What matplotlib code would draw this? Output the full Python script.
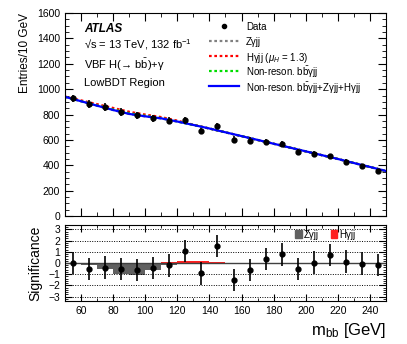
import matplotlib
matplotlib.use('Agg')
import matplotlib.pyplot as plt
from matplotlib.ticker import MultipleLocator
from matplotlib.patches import Patch
import numpy as np

plt.rcParams['font.family'] = ['Liberation Sans', 'DejaVu Sans']
plt.rcParams['mathtext.fontset'] = 'custom'
plt.rcParams['mathtext.rm'] = 'Liberation Sans'
plt.rcParams['mathtext.it'] = 'Liberation Sans:italic'
plt.rcParams['mathtext.bf'] = 'Liberation Sans:bold'

# binned data (bin centres, GeV)
bin_centres = [55, 65, 75, 85, 95, 105, 115, 125, 135, 145,
               155, 165, 175, 185, 195, 205, 215, 225, 235, 245]
data_counts = [927, 885, 860, 821, 795, 769, 750, 755, 671, 710,
               603, 595, 584, 568, 505, 489, 471, 426, 392, 355]
signif = [0.0, -0.53, -0.41, -0.56, -0.62, -0.47, -0.21, 1.09, -0.94, 1.53,
          -1.50, -0.62, 0.35, 0.76, -0.53, 0.03, 0.70, 0.12, -0.06, -0.20]
signif_err = [1.0] * 20

# fitted curves, read at 10 GeV steps
curve_x = [50, 60, 70, 80, 90, 100, 110, 120, 130, 140, 150,
           160, 170, 180, 190, 200, 210, 220, 230, 240, 250]
total_fit = [940, 905, 870, 836, 805, 786, 770, 745, 718, 690, 660,
             630, 600, 570, 540, 510, 480, 450, 418, 387, 355]
h_fit = [942, 912, 882, 852, 822, 800, 780, 752, 720, 690, 660,
         630, 600, 570, 540, 510, 480, 450, 418, 387, 355]
nonres_fit = [940, 906, 872, 840, 810, 790, 772, 746, 718, 690, 660,
              630, 600, 570, 540, 510, 480, 450, 418, 387, 355]
z_fit = [939, 904, 869, 835, 804, 785, 769, 744, 717, 689, 659,
         629, 599, 569, 539, 509, 479, 449, 417, 386, 354]

# significance histograms (bin low edges)
z_edges = [60, 70, 80, 90, 100, 110]
z_sig = [-0.2, -0.5, -1.0, -1.1, -0.6, -0.15]
h_edges = [110, 120, 130, 140]
h_sig = [0.05, 0.22, 0.22, 0.05]

legend_labels = ['Data', 'Zγjj', 'Hγjj ($\\mu_{H}$ = 1.3)', 'Non-reson. b$\\bar{\\rm b}$γjj',
                 'Non-reson. b$\\bar{\\rm b}$γjj+Zγjj+Hγjj']

dot = (0, (1.2, 1.2))
curve_styles = [dict(color='gray', ls=dot), dict(color='red', ls=dot),
                dict(color='#00dd00', ls=dot), dict(color='blue', ls='-')]

fig = plt.figure(figsize=(4.07, 3.44), dpi=100)
ax = fig.add_axes([0.1597, 0.372, 0.7887, 0.590])
ax2 = fig.add_axes([0.1597, 0.125, 0.7887, 0.221])

# top panel
for curve, st in zip([z_fit, h_fit, nonres_fit, total_fit], curve_styles):
    ax.plot(curve_x, curve, lw=1.6, **st)
ax.errorbar(bin_centres, data_counts, yerr=np.sqrt(data_counts), fmt='o', color='black',
            ms=3.5, elinewidth=1.2, capsize=0, zorder=5)

ax.set_xlim(50, 250)
ax.set_ylim(0, 1600)
ax.yaxis.set_major_locator(MultipleLocator(200))
ax.yaxis.set_minor_locator(MultipleLocator(50))
ax.xaxis.set_major_locator(MultipleLocator(20))
ax.xaxis.set_minor_locator(MultipleLocator(10))
ax.tick_params(which='both', direction='in', top=True, right=True, labelsize=7.5)
ax.tick_params(which='major', length=6)
ax.tick_params(which='minor', length=3)
ax.tick_params(axis='x', labelbottom=False)
ax.set_ylabel('Entries/10 GeV', fontsize=8.5, loc='top')

ax.text(0.06, 0.92, 'ATLAS', transform=ax.transAxes, fontsize=8.5,
        fontweight='bold', fontstyle='italic', va='center')
ax.text(0.06, 0.845, '√s = 13 TeV, 132 fb$^{-1}$', transform=ax.transAxes, fontsize=8, va='center')
ax.text(0.06, 0.745, 'VBF H(→ b$\\bar{\\rm b}$)+γ', transform=ax.transAxes, fontsize=8, va='center')
ax.text(0.06, 0.655, 'LowBDT Region', transform=ax.transAxes, fontsize=8, va='center')

# hand-made legend, evenly spaced rows like the ROOT one
row_y = [0.935, 0.862, 0.79, 0.717, 0.643]
ax.plot([0.4955], [row_y[0]], 'o', ms=3, color='black', transform=ax.transAxes)
for yy, st in zip(row_y[1:], curve_styles):
    ax.plot([0.449, 0.542], [yy, yy], lw=1.6, transform=ax.transAxes, **st)
for yy, lab in zip(row_y, legend_labels):
    ax.text(0.564, yy, lab, transform=ax.transAxes, fontsize=7, va='center_baseline')

# bottom panel
ax2.bar(z_edges, z_sig, width=10, align='edge', color='#606060', lw=0)
ax2.bar(h_edges, h_sig, width=10, align='edge', color='#ff2020', lw=0)
ax2.axhline(0, color='#404040', lw=1)
for yv in [-3, -2, -1, 1, 2, 3]:
    ax2.axhline(yv, color='black', ls=(0, (1, 1.5)), lw=0.7)
ax2.errorbar(bin_centres, signif, yerr=signif_err, fmt='o', color='black',
             ms=3.5, elinewidth=1.2, capsize=0, zorder=5)
ax2.set_xlim(50, 250)
ax2.set_ylim(-3.4, 3.4)
ax2.yaxis.set_major_locator(MultipleLocator(1))
ax2.yaxis.set_minor_locator(MultipleLocator(0.2))
ax2.xaxis.set_major_locator(MultipleLocator(20))
ax2.xaxis.set_minor_locator(MultipleLocator(10))
ax2.tick_params(which='both', direction='in', top=True, right=True, labelsize=7.5)
ax2.tick_params(which='major', length=5)
ax2.tick_params(which='minor', length=2.5)
ax2.set_ylabel('Significance', fontsize=10)
ax2.set_xlabel('m$_{\\rm bb}$ [GeV]', fontsize=12, loc='right')
ax2.legend([Patch(color='#606060'), Patch(color='#ff2020')], ['Zγjj', 'Hγjj'],
           loc='upper left', bbox_to_anchor=(0.705, 0.99), ncol=2, frameon=False,
           fontsize=7, handlelength=0.7, handleheight=0.9, handletextpad=0.2,
           columnspacing=1.2, borderaxespad=0)

fig.align_ylabels([ax, ax2])
plt.savefig('out.png', dpi=100)
